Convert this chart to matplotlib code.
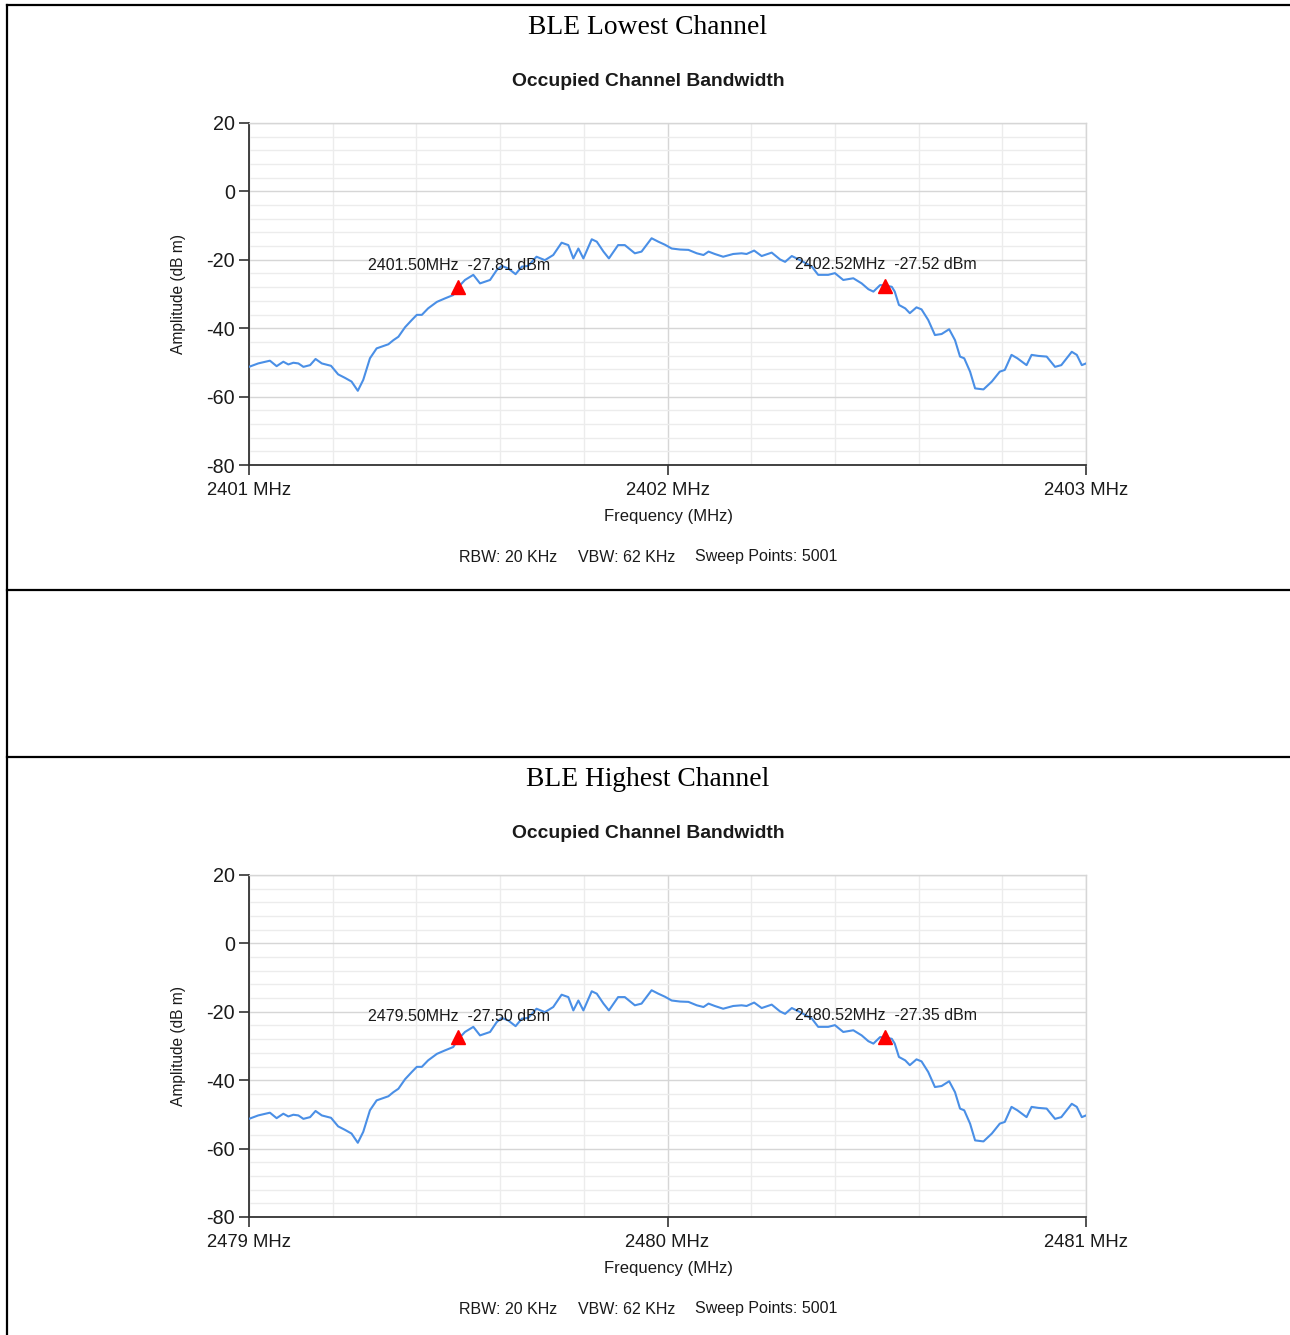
import matplotlib
matplotlib.use('Agg')
from matplotlib import pyplot as plt
from matplotlib.lines import Line2D
from matplotlib.ticker import MultipleLocator

plt.rcParams['axes.unicode_minus'] = False

W, H = 1290, 1335

# trace: offset from start frequency (MHz), amplitude (dBm)
offset_mhz = [
    0.000, 0.022, 0.050, 0.066, 0.082, 0.094, 0.106, 0.118, 0.130, 0.146,
    0.159, 0.174, 0.196, 0.213, 0.229, 0.245, 0.260, 0.273, 0.289, 0.305,
    0.333, 0.345, 0.357, 0.373, 0.389, 0.401, 0.413, 0.428, 0.449, 0.468,
    0.488, 0.500, 0.516, 0.536, 0.552, 0.576, 0.592, 0.604, 0.619, 0.637,
    0.652, 0.667, 0.687, 0.707, 0.727, 0.747, 0.763, 0.775, 0.787, 0.799,
    0.819, 0.831, 0.847, 0.860, 0.882, 0.898, 0.922, 0.938, 0.962, 0.978,
    0.994, 1.010, 1.030, 1.050, 1.070, 1.086, 1.098, 1.113, 1.133, 1.157,
    1.177, 1.189, 1.207, 1.225, 1.249, 1.269, 1.281, 1.297, 1.317, 1.345,
    1.360, 1.384, 1.400, 1.420, 1.444, 1.464, 1.480, 1.492, 1.508, 1.520,
    1.536, 1.543, 1.553, 1.568, 1.579, 1.595, 1.607, 1.623, 1.639, 1.655,
    1.673, 1.687, 1.699, 1.709, 1.723, 1.735, 1.755, 1.775, 1.794, 1.806,
    1.822, 1.836, 1.858, 1.870, 1.886, 1.906, 1.926, 1.941, 1.966, 1.978,
    1.990, 2.000,
]
amplitude_dbm = [
    -51.3, -50.3, -49.5, -51.1, -49.8, -50.6, -50.1, -50.3, -51.3, -50.8,
    -49.0, -50.3, -51.0, -53.5, -54.5, -55.6, -58.3, -55.1, -48.8, -45.9,
    -44.7, -43.5, -42.5, -39.7, -37.6, -36.1, -36.1, -34.2, -32.3, -31.3,
    -30.3, -28.0, -25.9, -24.4, -26.9, -25.9, -23.0, -21.8, -22.5, -24.2,
    -22.0, -21.8, -19.1, -20.1, -18.6, -15.0, -15.7, -19.6, -16.7, -19.6,
    -14.0, -14.7, -17.6, -19.6, -15.7, -15.7, -18.1, -17.6, -13.7, -14.7,
    -15.6, -16.7, -17.0, -17.1, -18.1, -18.6, -17.6, -18.3, -19.1, -18.3,
    -18.1, -18.3, -17.3, -18.9, -17.9, -19.9, -20.6, -18.9, -20.1, -22.0,
    -24.4, -24.4, -23.9, -25.9, -25.4, -26.9, -28.6, -29.3, -27.4, -27.5,
    -27.9, -29.3, -33.2, -34.2, -35.6, -33.9, -34.5, -37.6, -42.0, -41.7,
    -40.3, -43.5, -48.3, -48.8, -52.7, -57.6, -57.9, -55.6, -52.7, -52.2,
    -47.8, -48.8, -50.8, -47.8, -48.1, -48.3, -51.3, -50.8, -46.9, -47.8,
    -50.8, -50.3,
]

titles = ['BLE Lowest Channel', 'BLE Highest Channel']
start_freqs = [2401, 2479]
marker_freqs = [[2401.50, 2402.52], [2479.50, 2480.52]]
marker_levels = [[-27.81, -27.52], [-27.50, -27.35]]
info_texts = ['RBW: 20 KHz', 'VBW: 62 KHz', 'Sweep Points: 5001']

SANS = 'Liberation Sans'
TXT = '#1a1a1a'


def fx(x):
    return x / W


def fy(y):
    return 1 - y / H


def draw_block(fig, idx, dy):
    start = start_freqs[idx]
    ax = fig.add_axes([fx(249), fy(465 + dy), fx(1086) - fx(249),
                       fy(123 + dy) - fy(465 + dy)])
    freqs = [start + o for o in offset_mhz]
    ax.plot(freqs, amplitude_dbm, color='#4a8fe6', lw=1.5, zorder=3)
    ax.set_xlim(start, start + 2)
    ax.set_ylim(-80, 20)

    ax.set_xticks([start, start + 1, start + 2])
    ax.set_xticklabels([f'{start + i} MHz' for i in range(3)])
    ax.xaxis.set_minor_locator(MultipleLocator(0.2))
    ax.yaxis.set_major_locator(MultipleLocator(20))
    ax.yaxis.set_minor_locator(MultipleLocator(4))
    ax.grid(which='major', color='#d6d6d6', lw=1.0, zorder=1)
    ax.grid(which='minor', color='#ececec', lw=1.0, zorder=0)
    ax.set_axisbelow(True)

    ax.tick_params(which='minor', length=0)
    ax.tick_params(which='major', direction='out', length=7, width=1.2,
                   color='#333333', labelcolor=TXT)
    ax.tick_params(axis='x', pad=5, labelsize=13.3)
    ax.tick_params(axis='y', pad=3, labelsize=14.2)
    for lab in ax.get_xticklabels() + ax.get_yticklabels():
        lab.set_fontfamily(SANS)
    for s in ['left', 'bottom']:
        ax.spines[s].set_color('#333333')
        ax.spines[s].set_linewidth(1.3)
    for s in ['top', 'right']:
        ax.spines[s].set_color('#d6d6d6')
        ax.spines[s].set_linewidth(1.0)

    # markers with their labels
    for mf, ml in zip(marker_freqs[idx], marker_levels[idx]):
        ax.plot(mf, ml, marker='^', color='#ff0000', ms=10, mec='#ff0000',
                zorder=5, ls='none')
        ax.annotate(f'{mf:.2f}MHz  {ml:.2f} dBm', (mf, ml),
                    xytext=(-90, 21), textcoords='offset pixels',
                    fontsize=11.5, family=SANS, color=TXT, va='center',
                    ha='left', zorder=6)

    fig.text(fx(648), fy(28 + dy), titles[idx], family='Liberation Serif',
             fontsize=19.8, ha='center', va='center', color='black')
    fig.text(fx(648), fy(81 + dy), 'Occupied Channel Bandwidth', family=SANS,
             fontsize=13.9, weight='bold', ha='center', va='center', color=TXT)
    fig.text(fx(178), fy(294 + dy), 'Amplitude (dB m)', family=SANS,
             fontsize=11.2, rotation=90, ha='center', va='center', color=TXT)
    fig.text(fx(668), fy(517 + dy), 'Frequency (MHz)', family=SANS,
             fontsize=12, ha='center', va='center', color=TXT)
    for x, t in zip([459, 578, 695], info_texts):
        fig.text(fx(x), fy(557 + dy), t, family=SANS, fontsize=11.5,
                 ha='left', va='center', color=TXT)


def main():
    fig = plt.figure(figsize=(W / 100, H / 100), dpi=100)
    fig.patch.set_facecolor('white')

    # table borders
    for y in [5, 590, 757]:
        fig.add_artist(Line2D([fx(7), 1], [fy(y), fy(y)], color='black',
                              lw=1.6, transform=fig.transFigure))
    fig.add_artist(Line2D([fx(7), fx(7)], [fy(5), 0], color='black', lw=1.6,
                          transform=fig.transFigure))

    draw_block(fig, 0, 0)
    draw_block(fig, 1, 752)

    fig.savefig('out.png', dpi=100, facecolor='white')


if __name__ == '__main__':
    main()
